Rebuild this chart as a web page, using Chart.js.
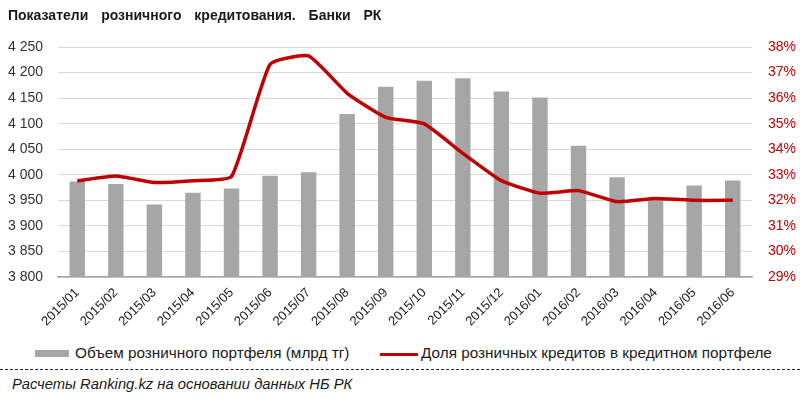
<!DOCTYPE html>
<html>
<head>
<meta charset="utf-8">
<script src="https://cdn.jsdelivr.net/npm/chart.js@4"></script>
<style>
  body { margin: 0; background: #fff; }
  #wrap { position: relative; width: 800px; height: 398px; overflow: hidden; font-family: "Liberation Sans", Arial, sans-serif; color: #1a1a1a; }
  #title { position: absolute; left: 8px; top: 7px; font-size: 14px; font-weight: bold; word-spacing: 9px; }
  #chart { position: absolute; left: 0; top: 0; }
  .leg { position: absolute; top: 344px; font-size: 15.3px; white-space: nowrap; }
  .box { position: absolute; }
  #dash { position: absolute; left: 0; top: 369px; width: 800px; border-top: 1.5px dashed #222; }
  #foot { position: absolute; left: 12px; top: 376px; font-size: 14.8px; font-style: italic; }
</style>
</head>
<body>
<div id="wrap">
  <canvas id="chart" width="800" height="340"></canvas>
  <div id="title">Показатели розничного кредитования. Банки РК</div>
  <div class="box" style="left:35px;top:350px;width:34px;height:7px;background:#a6a6a6"></div>
  <div class="leg" id="leg1" style="left:75px"></div>
  <div class="box" style="left:380px;top:353px;width:38px;height:3px;background:#c00000"></div>
  <div class="leg" id="leg2" style="left:421px"></div>
  <div id="dash"></div>
  <div id="foot">Расчеты Ranking.kz на основании данных НБ РК</div>
</div>
<script>
const months = ["2015/01", "2015/02", "2015/03", "2015/04", "2015/05", "2015/06", "2015/07", "2015/08", "2015/09",
    "2015/10", "2015/11", "2015/12", "2016/01", "2016/02", "2016/03", "2016/04", "2016/05", "2016/06"];
// млрд тг
const portfolio = [3987, 3982, 3942, 3965, 3973, 3998, 4005, 4119, 4172, 4184, 4189, 4163, 4151, 4057, 3995, 3952, 3979, 3989];
// %
const share = [32.76, 32.95, 32.7, 32.77, 32.93, 37.32, 37.65, 36.19, 35.25, 34.99, 33.84, 32.77, 32.28, 32.38, 31.95, 32.07, 32.0, 32.0];

const barLabel = "Объем розничного портфеля (млрд тг)";
const lineLabel = "Доля розничных кредитов в кредитном портфеле";
const leftMin = 3800, leftMax = 4250, leftStep = 50;
const rightMin = 29, rightMax = 38, rightStep = 1;

document.getElementById('leg1').textContent = barLabel;
document.getElementById('leg2').textContent = lineLabel;

function spaced(v) {
    return v.toString().replace(/\B(?=(\d{3})+(?!\d))/g, " ");
}

new Chart("chart", {
    data: {
        labels: months,
        datasets: [{
            type: "line",
            label: lineLabel,
            data: share,
            yAxisID: "y1",
            borderColor: "#c00000",
            borderWidth: 3.5,
            pointRadius: 0,
            tension: 0.15,
            fill: false
        }, {
            type: "bar",
            label: barLabel,
            data: portfolio,
            yAxisID: "y",
            backgroundColor: "#a6a6a6",
            barPercentage: 0.4,
            categoryPercentage: 1
        }]
    },
    options: {
        responsive: false,
        animation: false,
        layout: { padding: { top: 47 } },
        plugins: {
            legend: { display: false },
            tooltip: { enabled: false }
        },
        scales: {
            x: {
                grid: { display: false, drawTicks: false },
                border: { color: "#a6a6a6", width: 1.5 },
                ticks: { minRotation: 45, maxRotation: 45, padding: 8, color: "#222", font: { family: "Liberation Sans", size: 13 } },
                afterFit: s => { s.height = 63; }
            },
            y: {
                position: "left",
                min: leftMin, max: leftMax,
                grid: { color: "#d9d9d9", drawTicks: false },
                border: { display: false },
                ticks: { stepSize: leftStep, padding: 15, color: "#333", font: { family: "Liberation Sans", size: 14 }, callback: v => spaced(v) },
                afterFit: s => { s.width = 58; }
            },
            y1: {
                position: "right",
                min: rightMin, max: rightMax,
                grid: { display: false, drawTicks: false },
                border: { display: false },
                ticks: { stepSize: rightStep, padding: 16, color: "#c00000", font: { family: "Liberation Sans", size: 14 }, callback: v => v + "%" },
                afterFit: s => { s.width = 48; }
            }
        }
    }
});
</script>
</body>
</html>
